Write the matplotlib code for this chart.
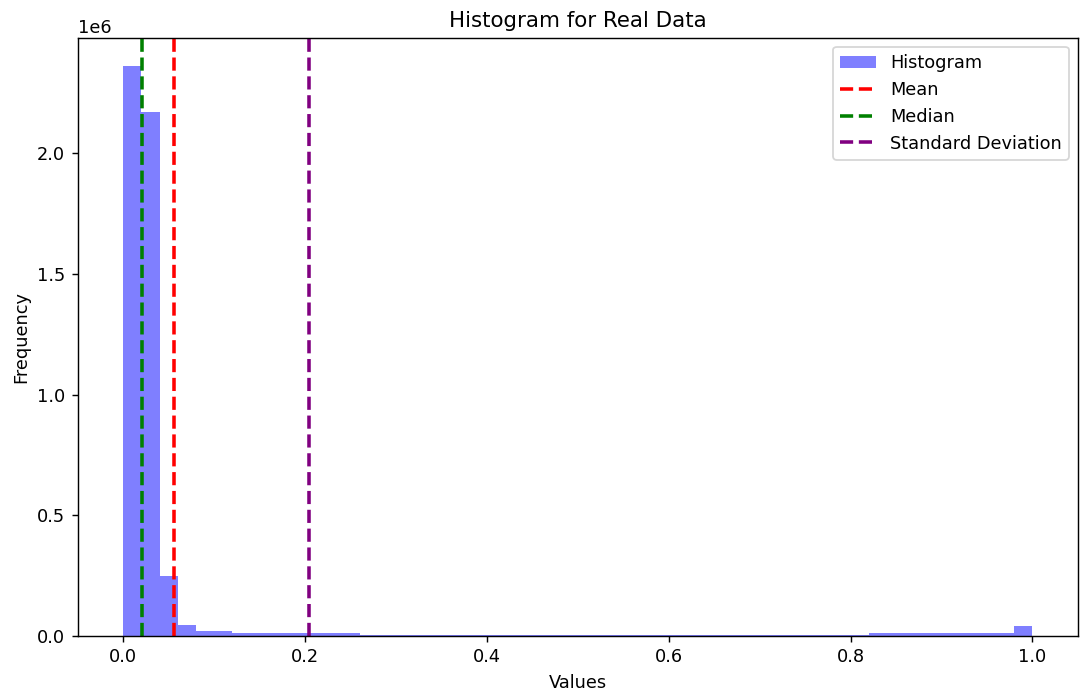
import matplotlib
matplotlib.use("Agg")
import matplotlib.pyplot as plt
import numpy as np

# bin edges: 50 equal bins over [0, 1]
bin_edges = np.linspace(0.0, 1.0, 51)

# counts, one per bin
counts = (
    [2.36e6, 2.17e6, 0.248e6, 0.045e6, 0.02e6, 0.02e6]
    + [0.012e6] * 7
    + [0.005e6] * 28
    + [0.012e6] * 8
    + [0.04e6]
)

mean_val = 0.056
median_val = 0.021
std_val = 0.204

bin_centers = (bin_edges[:-1] + bin_edges[1:]) / 2

# rendered at 128 dpi so text and lines come out a bit larger, like the reference
fig, ax = plt.subplots(figsize=(1080 / 128, 698 / 128), dpi=128)
fig.subplots_adjust(left=0.072, right=0.998, top=0.9456, bottom=0.0888)

ax.hist(bin_centers, bins=bin_edges, weights=counts, color="blue", alpha=0.5, label="Histogram")
ax.axvline(mean_val, color="red", linestyle="--", linewidth=2, label="Mean")
ax.axvline(median_val, color="green", linestyle="--", linewidth=2, label="Median")
ax.axvline(std_val, color="purple", linestyle="--", linewidth=2, label="Standard Deviation")

ax.set_title("Histogram for Real Data")
ax.set_xlabel("Values")
ax.set_ylabel("Frequency")
ax.legend(loc="upper right")

plt.savefig("out.png", dpi=128)
